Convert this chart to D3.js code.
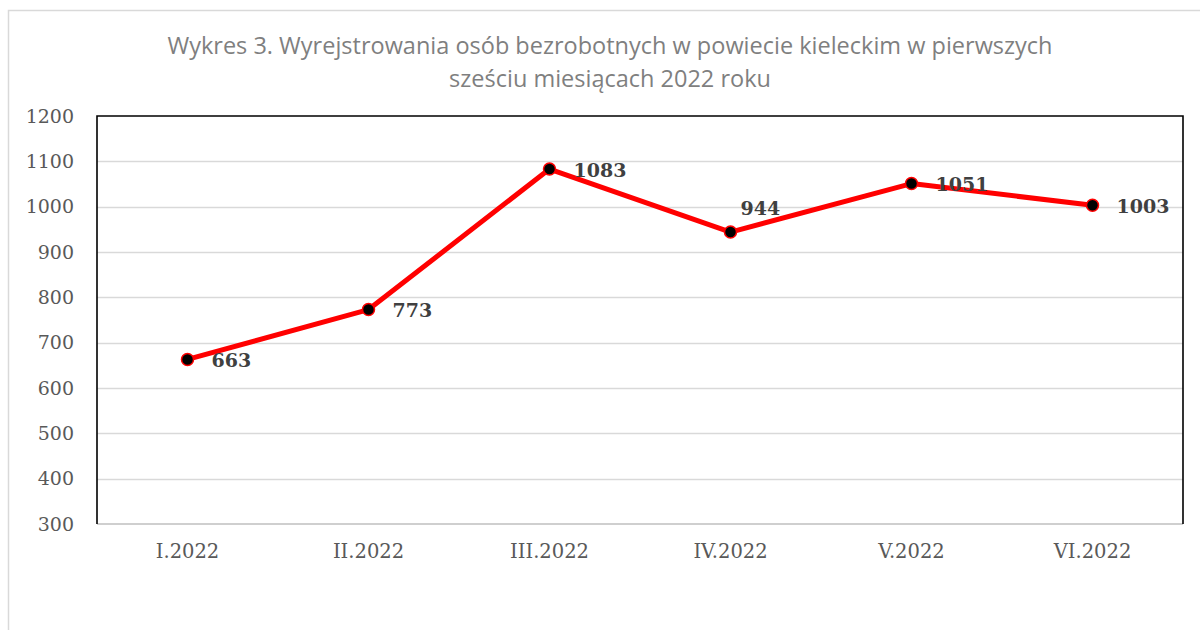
<!DOCTYPE html>
<html>
<head>
<meta charset="utf-8">
<script src="https://cdn.jsdelivr.net/npm/d3@7"></script>
<style>
  body { margin: 0; background: #fff; }
  svg { display: block; }
</style>
</head>
<body>
<div id="chart"></div>
<script>
// ---------------------------------------------------------------------------
// data
// ---------------------------------------------------------------------------
var months = ["I.2022", "II.2022", "III.2022", "IV.2022", "V.2022", "VI.2022"];
var registered = [663, 773, 1083, 944, 1051, 1003];
var yTicks = [300, 400, 500, 600, 700, 800, 900, 1000, 1100, 1200];
var titleLines = [
  "Wykres 3. Wyrejstrowania osób bezrobotnych w powiecie kieleckim w pierwszych",
  "sześciu miesiącach 2022 roku"
];

var data = months.map(function(m, i) { return { key: m, value: registered[i] }; });

// ---------------------------------------------------------------------------
// layout
// ---------------------------------------------------------------------------
var W = 1200, H = 630;
var plot = { left: 97, right: 1183, top: 116, bottom: 524 };

var svg = d3.select("#chart").append("svg")
  .attr("width", W).attr("height", H);

// outer chart border (runs off the right / bottom of the picture)
svg.append("rect")
  .attr("x", 8.5).attr("y", 10.5)
  .attr("width", W + 20).attr("height", H + 20)
  .attr("fill", "none").attr("stroke", "#d9d9d9").attr("stroke-width", 1.5);

// title
svg.append("text")
  .attr("x", 610).attr("y", 54)
  .attr("text-anchor", "middle")
  .attr("font-family", "'Open Sans', Lato, sans-serif")
  .attr("font-size", 23.5)
  .attr("fill", "#7f7f7f")
  .selectAll("tspan").data(titleLines).enter().append("tspan")
  .attr("x", 610)
  .attr("dy", function(d, i) { return i ? 33 : 0; })
  .text(function(d) { return d; });

// ---------------------------------------------------------------------------
// scales
// ---------------------------------------------------------------------------
var x = d3.scaleBand().domain(months).range([plot.left, plot.right]);
var y = d3.scaleLinear().domain([300, 1200]).range([plot.bottom, plot.top]);
function cx(d) { return x(d.key) + x.bandwidth() / 2; }
function cy(d) { return y(d.value); }

// gridlines
svg.append("g").selectAll("line").data(yTicks.slice(1, -1)).enter().append("line")
  .attr("x1", plot.left).attr("x2", plot.right)
  .attr("y1", function(d) { return Math.round(y(d)) + 0.5; })
  .attr("y2", function(d) { return Math.round(y(d)) + 0.5; })
  .attr("stroke", "#d9d9d9").attr("stroke-width", 1.5);

// y axis labels
var yAxis = svg.append("g")
  .attr("transform", "translate(" + (plot.left - 23) + ",0)")
  .call(d3.axisLeft(y).tickValues(yTicks).tickFormat(d3.format("d"))
    .tickSize(0).tickPadding(0));
yAxis.select(".domain").remove();
yAxis.selectAll("text")
  .attr("font-family", "'DejaVu Serif', serif")
  .attr("font-size", 19)
  .attr("fill", "#595959");

// x axis labels
var xAxis = svg.append("g")
  .attr("transform", "translate(0," + plot.bottom + ")")
  .call(d3.axisBottom(x).tickSize(0).tickPadding(20));
xAxis.select(".domain").remove();
xAxis.selectAll("text")
  .attr("font-family", "'DejaVu Serif', serif")
  .attr("font-size", 19.5)
  .attr("fill", "#595959");

// plot frame: gray category axis, black left / top / right
svg.append("line")
  .attr("x1", plot.left).attr("x2", plot.right)
  .attr("y1", plot.bottom).attr("y2", plot.bottom)
  .attr("stroke", "#bfbfbf").attr("stroke-width", 1.5);
svg.append("path")
  .attr("d", "M" + plot.left + "," + plot.bottom + "V" + plot.top + "H" + plot.right + "V" + plot.bottom)
  .attr("fill", "none").attr("stroke", "#000").attr("stroke-width", 1.6);

// ---------------------------------------------------------------------------
// series
// ---------------------------------------------------------------------------
var line = d3.line().x(cx).y(cy);
svg.append("path").datum(data)
  .attr("d", line)
  .attr("fill", "none").attr("stroke", "#ff0000")
  .attr("stroke-width", 5).attr("stroke-linejoin", "round");

svg.append("g").selectAll("circle").data(data).enter().append("circle")
  .attr("cx", cx).attr("cy", cy).attr("r", 6)
  .attr("fill", "#000").attr("stroke", "#ff0000").attr("stroke-width", 1.5);

// data labels (944 sits above the line, the rest to the right)
function labelDx(d) { return d.key === "IV.2022" ? 10 : 24; }
function labelDy(d) { return d.key === "IV.2022" ? -24 : 1; }
svg.append("g").selectAll("text").data(data).enter().append("text")
  .attr("x", function(d) { return cx(d) + labelDx(d); })
  .attr("y", function(d) { return cy(d) + labelDy(d); })
  .attr("dy", "0.35em")
  .attr("font-family", "'DejaVu Serif', serif")
  .attr("font-weight", "bold")
  .attr("font-size", 19)
  .attr("fill", "#404040")
  .text(function(d) { return d.value; });
</script>
</body>
</html>
